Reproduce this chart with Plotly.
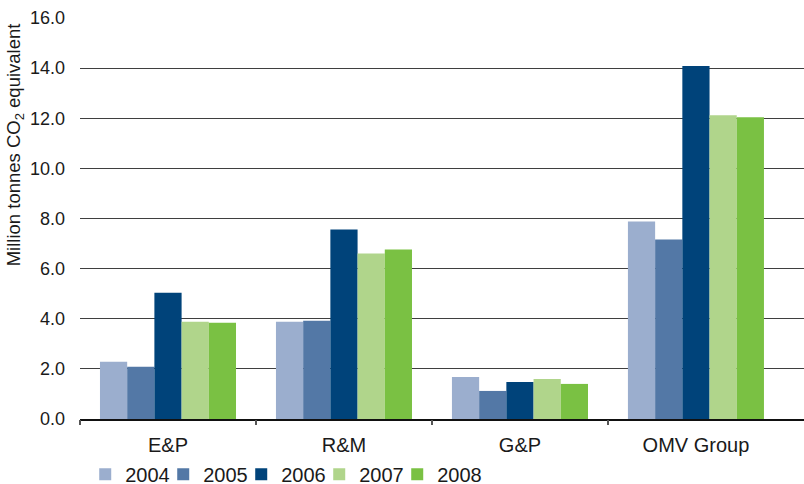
import plotly.graph_objects as go

# Greenhouse gas emissions by business segment
segments = ["E&P", "R&M", "G&P", "OMV Group"]
years = ["2004", "2005", "2006", "2007", "2008"]
emissions = {
    "2004": [2.28, 3.88, 1.68, 7.88],
    "2005": [2.08, 3.92, 1.12, 7.16],
    "2006": [5.04, 7.56, 1.48, 14.08],
    "2007": [3.88, 6.60, 1.60, 12.12],
    "2008": [3.84, 6.76, 1.40, 12.04],
}
year_colors = ["#9BAECE", "#5378A6", "#00437A", "#B0D58B", "#7AC143"]
y_ticks = [0, 2, 4, 6, 8, 10, 12, 14, 16]
y_tick_labels = ["0.0", "2.0", "4.0", "6.0", "8.0", "10.0", "12.0", "14.0", "16.0"]
segment_edges = [-0.5, 0.5, 1.5, 2.5]

FONT = "Liberation Sans, Arial, sans-serif"
x_range = [-0.5, 3.614]

fig = go.Figure()
for year, color in zip(years, year_colors):
    fig.add_trace(go.Bar(
        name=year, x=segments, y=emissions[year],
        marker=dict(color=color, line=dict(width=0)),
    ))

# invisible helper trace on the boundary tick axis; its blank legend slot
# also leaves room for the last label of the compact legend
fig.add_trace(go.Scatter(
    x=[x_range[0]], y=[0], xaxis="x2", mode="markers", name=" ",
    marker=dict(size=1, color="rgba(0,0,0,0)"), showlegend=True, hoverinfo="skip",
))

fig.update_layout(
    width=804, height=484,
    margin=dict(l=80, r=0, t=18, b=65),
    paper_bgcolor="white", plot_bgcolor="white",
    barmode="group", bargap=0.227, bargroupgap=0,
    font=dict(family=FONT, color="#1a1a1a"),
    xaxis=dict(
        type="category", range=x_range,
        showgrid=False, ticks="", showline=True, linecolor="#111111", linewidth=1.5,
        tickfont=dict(size=20), ticklabelstandoff=7,
    ),
    xaxis2=dict(
        overlaying="x", anchor="y", side="bottom", range=x_range,
        tickvals=segment_edges, showticklabels=False,
        ticks="outside", ticklen=5, tickwidth=1.5, tickcolor="#555555",
        showgrid=False, showline=False, zeroline=False,
    ),
    yaxis=dict(
        range=[0, 16], tickvals=y_ticks, ticktext=y_tick_labels,
        showgrid=True, gridcolor="#3f3f3f", gridwidth=1.4,
        ticks="", zeroline=False, showline=False,
        tickfont=dict(size=18), ticklabelstandoff=14,
    ),
    legend=dict(
        orientation="h", xref="container", yref="container",
        x=0.106, y=0.02, xanchor="left", yanchor="middle",
        font=dict(size=20), itemwidth=30, entrywidth=33,
        bgcolor="rgba(0,0,0,0)", tracegroupgap=0,
    ),
    annotations=[dict(
        text="Million tonnes CO<sub>2</sub> equivalent",
        xref="paper", yref="paper", x=-0.0898, y=0.685,
        xanchor="center", yanchor="middle", textangle=-90,
        showarrow=False, font=dict(size=18.5, family=FONT, color="#1a1a1a"),
    )],
)

fig.write_html("out.html")
